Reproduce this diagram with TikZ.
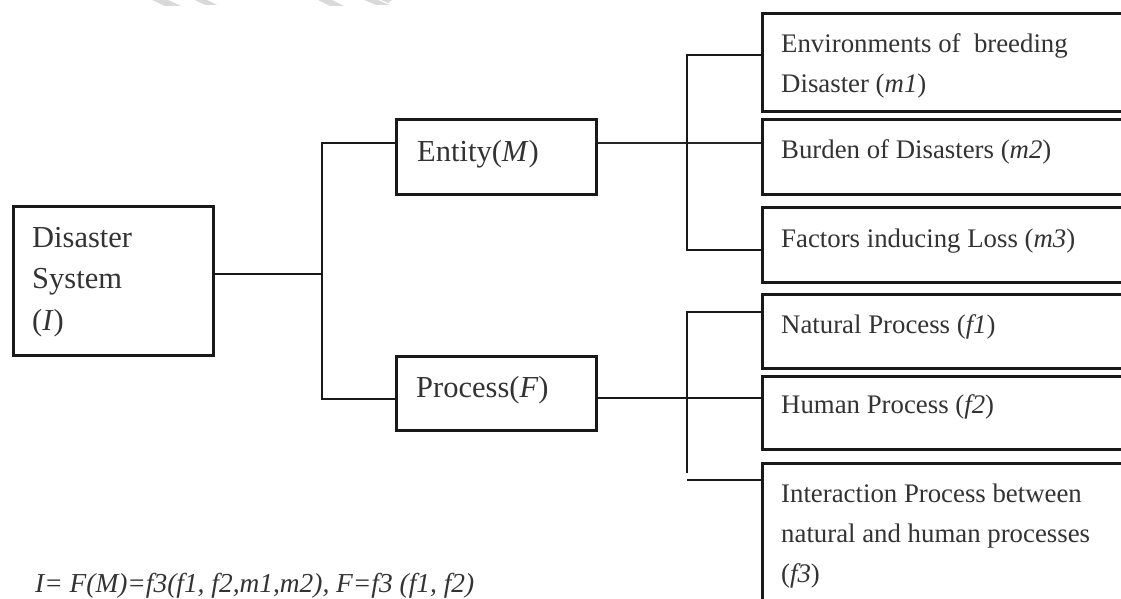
\documentclass[tikz,border=0pt]{standalone}
\usepackage{fontspec}
\setmainfont{Liberation Serif}
\begin{document}
\begin{tikzpicture}[x=1pt,y=-1pt,
  box/.style={draw=black!90, line width=2.6pt, rectangle, inner sep=0pt, anchor=north west},
  conn/.style={draw=black!90, line width=2pt},
  thinconn/.style={draw=black!85, line width=1.6pt},
  bigtxt/.style={anchor=base west, inner sep=0pt, text=black!80, font=\fontsize{30.5}{41}\selectfont},
  smtxt/.style={anchor=base west, inner sep=0pt, text=black!80, font=\fontsize{26.8}{40}\selectfont},
  eqtxt/.style={anchor=base west, inner sep=0pt, text=black!80, font=\fontsize{27.4}{32}\selectfont\itshape},
  wm/.style={fill=gray!30, draw=none}]
\useasboundingbox (0,0) rectangle (1121,599);
\clip (0,0) rectangle (1121,599);
\fill[white] (0,0) rectangle (1121,599);
% faint watermark fragments along the top edge
\fill[wm] (150,-1) -- (166,-1) -- (181,6) -- (165,6) -- cycle;
\fill[wm] (193,-1) -- (205,-1) -- (217,5) -- (205,5) -- cycle;
\fill[wm] (316,-1) -- (330,-1) -- (344,6) -- (330,6) -- cycle;
\fill[wm] (362,-1) -- (376,-1) -- (389,5) -- (376,5) -- cycle;
\fill[wm] (379,-1) -- (393,-1) -- (388,3) -- cycle;

% boxes
\node[box, minimum width=200pt, minimum height=149pt] (dis) at (12,205) {};
\node[box, minimum width=200pt, minimum height=75pt] (ent) at (395,118) {};
\node[box, minimum width=200pt, minimum height=74pt] (pro) at (395,355) {};
\node[box, minimum width=390pt, minimum height=98pt] (m1) at (761,12) {};
\node[box, minimum width=390pt, minimum height=75pt] (m2) at (761,118) {};
\node[box, minimum width=390pt, minimum height=75pt] (m3) at (761,206) {};
\node[box, minimum width=390pt, minimum height=74pt] (f1) at (761,293) {};
\node[box, minimum width=390pt, minimum height=73pt] (f2) at (761,375) {};
\node[box, minimum width=390pt, minimum height=170pt] (f3) at (761,462) {};

% texts
\node[bigtxt] (dis1) at (32,247) {Disaster};
\node[bigtxt] (dis2) at (32,288) {System};
\node[bigtxt] (dis3) at (32,330) {(\textit{I})};
\node[bigtxt] (entt) at (417,161) {Entity(\textit{M})};
\node[bigtxt] (prot) at (416,397) {Process(\textit{F})};
\node[smtxt] (m1a) at (781,53) {Environments of\ \ breeding};
\node[smtxt] (m1b) at (781,93) {Disaster (\textit{m1})};
\node[smtxt] (m2t) at (781,158) {Burden of Disasters (\textit{m2})};
\node[smtxt] (m3t) at (781,247) {Factors inducing Loss (\textit{m3})};
\node[smtxt] (f1t) at (781,333) {Natural Process (\textit{f1})};
\node[smtxt] (f2t) at (781,413) {Human Process (\textit{f2})};
\node[smtxt] (f3a) at (781,502) {Interaction Process between};
\node[smtxt] (f3b) at (781,542) {natural and human processes};
\node[smtxt] (f3c) at (781,582) {(\textit{f3})};
\node[eqtxt] (eq) at (35,592) {I= F(M)=f3(f1, f2,m1,m2), F=f3 (f1, f2)};

% junction coordinates
\coordinate (j0) at (322,274);
\coordinate (jE) at (322,143);
\coordinate (jP) at (322,399);
\coordinate (k1) at (687,55);
\coordinate (k2) at (687,143);
\coordinate (k3) at (687,250);
\coordinate (p1) at (687,312);
\coordinate (p2) at (687,398);
\coordinate (p3) at (687,473);
\coordinate (p4) at (687,480);

% connectors
\draw[conn] (dis.east |- j0) -- (j0);
\draw[conn] (ent.west |- jE) -- (jE) -- (jP) -- (pro.west |- jP);
\draw[thinconn] (ent.east |- k2) -- (m2.west |- k2);
\draw[conn] (m1.west |- k1) -- (k1) -- (k3) -- (m3.west |- k3);
\draw[conn] (pro.east |- p2) -- (f2.west |- p2);
\draw[conn] (f1.west |- p1) -- (p1) -- (p3);
\draw[conn] (p4) -- (f3.west |- p4);
\end{tikzpicture}
\end{document}
